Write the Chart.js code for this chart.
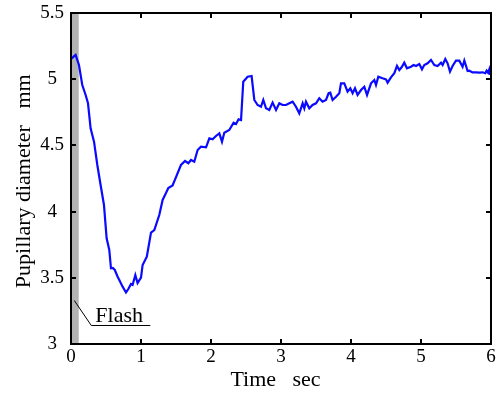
<!DOCTYPE html>
<html><head><meta charset="utf-8">
<script src="https://cdn.jsdelivr.net/npm/chart.js@4.4.1/dist/chart.umd.min.js"></script>
<style>html,body{margin:0;padding:0;background:#fff;}</style>
</head><body>
<canvas id="c" width="501" height="394"></canvas>
<script>
// ---- data ----
const timeSec = [0.00,0.033,0.066,0.114,0.161,0.209,0.243,0.280,0.329,0.376,0.423,0.471,0.509,0.547,0.571,0.597,0.626,0.666,0.690,0.737,0.786,0.819,0.857,0.880,0.919,0.951,1.000,1.023,1.083,1.143,1.190,1.261,1.309,1.357,1.390,1.451,1.500,1.571,1.629,1.676,1.714,1.761,1.809,1.857,1.929,1.976,2.023,2.071,2.119,2.157,2.190,2.261,2.323,2.357,2.394,2.429,2.461,2.523,2.580,2.619,2.666,2.714,2.747,2.786,2.833,2.880,2.929,2.976,3.023,3.071,3.119,3.166,3.214,3.261,3.309,3.333,3.357,3.404,3.451,3.500,3.547,3.594,3.643,3.680,3.704,3.737,3.786,3.833,3.857,3.904,3.951,3.990,4.023,4.057,4.094,4.143,4.190,4.229,4.286,4.333,4.357,4.390,4.451,4.500,4.523,4.571,4.619,4.657,4.690,4.723,4.761,4.800,4.857,4.894,4.929,4.976,5.014,5.047,5.094,5.143,5.190,5.237,5.286,5.309,5.347,5.380,5.414,5.451,5.500,5.547,5.594,5.619,5.666,5.690,5.737,5.786,5.833,5.880,5.919,5.937,5.957,5.976,5.986];
const diameterMm = [5.153,5.168,5.183,5.107,4.956,4.881,4.818,4.629,4.528,4.352,4.201,4.050,3.798,3.710,3.572,3.574,3.559,3.508,3.483,3.433,3.389,3.415,3.453,3.446,3.521,3.461,3.502,3.597,3.659,3.842,3.861,3.974,4.088,4.140,4.178,4.197,4.261,4.352,4.382,4.365,4.390,4.377,4.465,4.490,4.486,4.554,4.546,4.571,4.591,4.528,4.596,4.616,4.671,4.662,4.697,4.692,4.981,5.019,5.024,4.843,4.805,4.792,4.843,4.780,4.767,4.823,4.767,4.818,4.805,4.805,4.818,4.830,4.792,4.742,4.818,4.780,4.830,4.780,4.805,4.818,4.856,4.830,4.843,4.894,4.898,4.843,4.868,4.894,4.969,4.969,4.906,4.931,4.894,4.931,4.881,4.918,4.943,4.881,4.969,4.994,4.956,5.019,5.007,4.999,4.974,5.014,5.045,5.100,5.069,5.090,5.125,5.082,5.094,5.107,5.100,5.115,5.075,5.107,5.120,5.145,5.107,5.100,5.125,5.107,5.153,5.120,5.057,5.100,5.140,5.140,5.094,5.141,5.062,5.064,5.051,5.052,5.049,5.052,5.045,5.064,5.049,5.075,5.032];
const xTickValues = [0,1,2,3,4,5,6];
const yTickValues = [3,3.5,4,4.5,5,5.5];
const xTitle = 'Time   sec  ';
const yTitle = 'Pupillary diameter   mm ';
const flashBand = [0, 0.11];                 // seconds
const flashLabel = 'Flash';
const flashLeader = [[0.047,3.332],[0.29,3.143],[1.133,3.143]];
const flashTextAt = [0.347, 3.166];

const SERIF = '"Liberation Serif", "Times New Roman", Times, serif';

function drawFrame(c) {
  const ctx = c.ctx, a = c.chartArea, x = c.scales.x, y = c.scales.y;
  const L = Math.round(a.left), R = Math.round(a.right), T = Math.round(a.top), B = Math.round(a.bottom);
  ctx.save();
  ctx.globalAlpha = 1;
  ctx.globalCompositeOperation = 'source-over';
  ctx.fillStyle = '#000000';
  ctx.fillRect(L - 1, T - 1, 2, B - T + 2);
  ctx.fillRect(R - 1, T - 1, 2, B - T + 2);
  ctx.fillRect(L - 1, T - 1, R - L + 2, 2);
  ctx.fillRect(L - 1, B - 1, R - L + 2, 2);
  const tl = 5;
  xTickValues.forEach(v => {
    const px = Math.round(x.getPixelForValue(v));
    ctx.fillRect(px - 1, B - tl, 2, tl);
    ctx.fillRect(px - 1, T, 2, tl);
  });
  yTickValues.forEach(v => {
    const py = Math.round(y.getPixelForValue(v));
    ctx.fillRect(L, py - 1, tl, 2);
    ctx.fillRect(R - tl, py - 1, tl, 2);
  });
  ctx.restore();
}

const chart = new Chart(document.getElementById('c'), {
  type: 'line',
  data: {
    datasets: [{
      data: timeSec.map((t, i) => ({x: t, y: diameterMm[i]})),
      borderColor: '#0a0aff',
      borderWidth: 2.2,
      pointRadius: 0,
      tension: 0,
      fill: false
    }]
  },
  options: {
    responsive: false, animation: false, events: [],
    layout: {padding: {top: 13, right: 10, bottom: 0, left: 0}},
    plugins: {legend: {display: false}, tooltip: {enabled: false}},
    scales: {
      x: {
        type: 'linear', min: 0, max: 6, z: 1,
        afterBuildTicks: s => { s.ticks = xTickValues.map(v => ({value: v})); },
        afterFit: s => { s.height = 50; s.paddingLeft = 0; s.paddingRight = 0; },
        grid: {display: false, drawTicks: false},
        border: {display: true, color: '#000', width: 2},
        ticks: {color: '#000', font: {family: SERIF, size: 19}, padding: 2, maxRotation: 0, callback: v => String(v)},
        title: {display: true, text: xTitle, color: '#000', font: {family: SERIF, size: 22}, padding: {top: 0, bottom: 1}}
      },
      y: {
        type: 'linear', min: 3, max: 5.5, z: 1,
        afterBuildTicks: s => { s.ticks = yTickValues.map(v => ({value: v})); },
        afterFit: s => { s.width = 71; s.paddingTop = 0; s.paddingBottom = 0; },
        grid: {display: false, drawTicks: false},
        border: {display: true, color: '#000', width: 2},
        ticks: {color: '#000', font: {family: SERIF, size: 19}, padding: 7, crossAlign: 'center', callback: v => String(v)},
        title: {display: true, text: yTitle, color: '#000', font: {family: SERIF, size: 22}, padding: {top: 11, bottom: 0}}
      }
    }
  },
  plugins: [{
    id: 'pupilDecor',
    beforeDatasetsDraw(c) {
      const ctx = c.ctx, a = c.chartArea, x = c.scales.x;
      ctx.save();
      ctx.fillStyle = '#b3b3b3';
      const x0 = x.getPixelForValue(flashBand[0]), x1 = x.getPixelForValue(flashBand[1]);
      ctx.fillRect(x0, a.top, x1 - x0, a.bottom - a.top);
      ctx.restore();
    },
    afterDraw(c) {
      const ctx = c.ctx, x = c.scales.x, y = c.scales.y;
      ctx.save();
      ctx.strokeStyle = '#000';
      ctx.fillStyle = '#000';
      ctx.lineWidth = 1;
      ctx.beginPath();
      flashLeader.forEach((p, i) => {
        const px = x.getPixelForValue(p[0]), py = Math.round(y.getPixelForValue(p[1])) + 0.5;
        if (i === 0) ctx.moveTo(px, py); else ctx.lineTo(px, py);
      });
      ctx.stroke();
      ctx.font = '22px ' + SERIF;
      ctx.textAlign = 'left';
      ctx.textBaseline = 'alphabetic';
      ctx.fillText(flashLabel, x.getPixelForValue(flashTextAt[0]), y.getPixelForValue(flashTextAt[1]));
      ctx.restore();
      drawFrame(c);
    }
  }]
});
requestAnimationFrame(() => drawFrame(chart));
setTimeout(() => drawFrame(chart), 30);
</script>
</body></html>
